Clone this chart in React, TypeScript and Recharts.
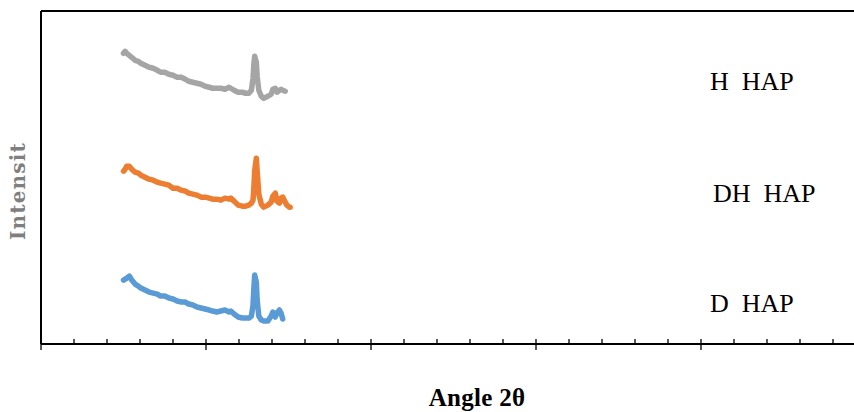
import React from "react";
import { LineChart, Line, XAxis, YAxis, Customized } from "recharts";

// 2θ angle grid (degrees)
const angles = [
  10.0, 10.2, 10.4, 10.7, 11.0, 11.4, 11.8, 12.1, 12.6, 13.1,
  13.6, 14.1, 14.5, 15.0, 15.5, 16.0, 16.5, 17.0, 17.5, 17.9,
  18.4, 18.9, 19.4, 19.9, 20.4, 20.8, 21.3, 21.8, 22.3, 22.8,
  23.0, 23.4, 23.9, 24.4, 24.8, 25.2, 25.5, 25.7, 25.8, 25.9,
  26.1, 26.2, 26.4, 26.7, 27.0, 27.5, 27.9, 28.1, 28.4, 28.6,
  28.9, 29.1, 29.3, 29.6, 29.8, 30.1, 30.2,
];

// Intensity (a.u., offset stacked)
const hHap: (number | null)[] = [
  873, 879, 873, 867, 861, 852, 849, 843, 837, 831,
  828, 822, 816, 816, 810, 807, 801, 801, 795, 789,
  786, 783, 780, 774, 771, 768, 768, 768, 765, 771,
  768, 762, 756, 756, 753, 753, 762, 798, 840, 864,
  846, 804, 762, 744, 738, 744, 750, 765, 768, 756,
  762, 765, 762, 759, null, null, null,
];

const dhHap: (number | null)[] = [
  519, 525, 534, 534, 525, 516, 513, 507, 501, 495,
  492, 486, 483, 480, 477, 468, 468, 462, 459, 453,
  450, 447, 441, 441, 438, 435, 435, 432, 438, 435,
  438, 429, 417, 414, 414, 417, 423, 432, 470, 520,
  558, 520, 450, 420, 411, 417, 426, 444, 453, 429,
  423, 438, 441, 426, 417, 411, 411,
];

const dHap: (number | null)[] = [
  192, 195, 198, 204, 192, 180, 174, 168, 162, 156,
  153, 150, 144, 144, 138, 135, 129, 126, 126, 120,
  117, 111, 108, 105, 102, 99, 96, 99, 102, 96,
  99, 90, 81, 78, 78, 78, 84, 117, 168, 207,
  186, 132, 84, 72, 69, 69, 84, 96, 81, 93,
  102, 93, 75, null, null, null, null,
];

const xTicks = [
  0, 4, 8, 12, 16, 20, 24, 28, 32, 36, 40, 44, 48, 52, 56, 60,
  64, 68, 72, 76, 80, 84, 88, 92, 96, 100,
];

const seriesLabels = ["H  HAP", "DH  HAP", "D  HAP"];

const data = angles.map((a, i) => ({
  angle: a,
  h: hHap[i],
  dh: dhHap[i],
  d: dHap[i],
}));

const AxisTick = (props: any) => {
  const { x, y, payload } = props;
  const major = payload.value % 20 === 0;
  return (
    <line
      x1={x}
      x2={x}
      y1={y - 5}
      y2={major ? y + 6 : y}
      stroke="#000"
      strokeWidth={1.3}
    />
  );
};

const Texts = () => (
  <g>
    <text
      x={0}
      y={0}
      transform="translate(25,191) rotate(-90)"
      textAnchor="middle"
      fontFamily="'DejaVu Serif', serif"
      fontWeight="bold"
      fontSize={20}
      letterSpacing={1.2}
      fill="#7f7f7f"
    >
      Intensit
    </text>
    <text
      x={477}
      y={406}
      textAnchor="middle"
      fontFamily="'Liberation Serif', serif"
      fontWeight="bold"
      fontSize={25}
      letterSpacing={0.3}
      fill="#000"
    >
      Angle 2θ
    </text>
    <text x={710} y={90} fontFamily="'Liberation Serif', serif" fontSize={26} fill="#000" style={{ whiteSpace: "pre" }}>
      {seriesLabels[0]}
    </text>
    <text x={713} y={202} fontFamily="'Liberation Serif', serif" fontSize={26} fill="#000" style={{ whiteSpace: "pre" }}>
      {seriesLabels[1]}
    </text>
    <text x={710} y={312} fontFamily="'Liberation Serif', serif" fontSize={26} fill="#000" style={{ whiteSpace: "pre" }}>
      {seriesLabels[2]}
    </text>
  </g>
);

export default function App() {
  return (
    <div
      style={{
        position: "absolute",
        left: 0,
        top: 0,
        width: 854,
        height: 412,
        overflow: "hidden",
        background: "#fff",
      }}
    >
      <LineChart
        width={900}
        height={412}
        data={data}
        margin={{ top: 10, right: 34, bottom: 67, left: 40 }}
      >
        <XAxis
          dataKey="angle"
          type="number"
          domain={[0, 100]}
          ticks={xTicks}
          interval={0}
          height={1}
          tickSize={0}
          tickMargin={0}
          tickLine={false}
          tick={<AxisTick />}
          axisLine={{ stroke: "#000", strokeWidth: 2 }}
          allowDataOverflow
        />
        <XAxis
          xAxisId="top"
          orientation="top"
          dataKey="angle"
          type="number"
          domain={[0, 100]}
          height={1}
          tick={false}
          tickLine={false}
          axisLine={{ stroke: "#000", strokeWidth: 2 }}
        />
        <YAxis
          type="number"
          domain={[0, 1000]}
          width={1}
          tick={false}
          tickLine={false}
          axisLine={{ stroke: "#000", strokeWidth: 2 }}
          allowDataOverflow
        />
        <Line
          type="linear"
          dataKey="h"
          stroke="#A5A5A5"
          strokeWidth={5.5}
          dot={false}
          strokeLinejoin="round"
          strokeLinecap="round"
          isAnimationActive={false}
        />
        <Line
          type="linear"
          dataKey="dh"
          stroke="#ED7D31"
          strokeWidth={5.5}
          dot={false}
          strokeLinejoin="round"
          strokeLinecap="round"
          isAnimationActive={false}
        />
        <Line
          type="linear"
          dataKey="d"
          stroke="#5B9BD5"
          strokeWidth={5.5}
          dot={false}
          strokeLinejoin="round"
          strokeLinecap="round"
          isAnimationActive={false}
        />
        <Customized component={Texts} />
      </LineChart>
    </div>
  );
}
